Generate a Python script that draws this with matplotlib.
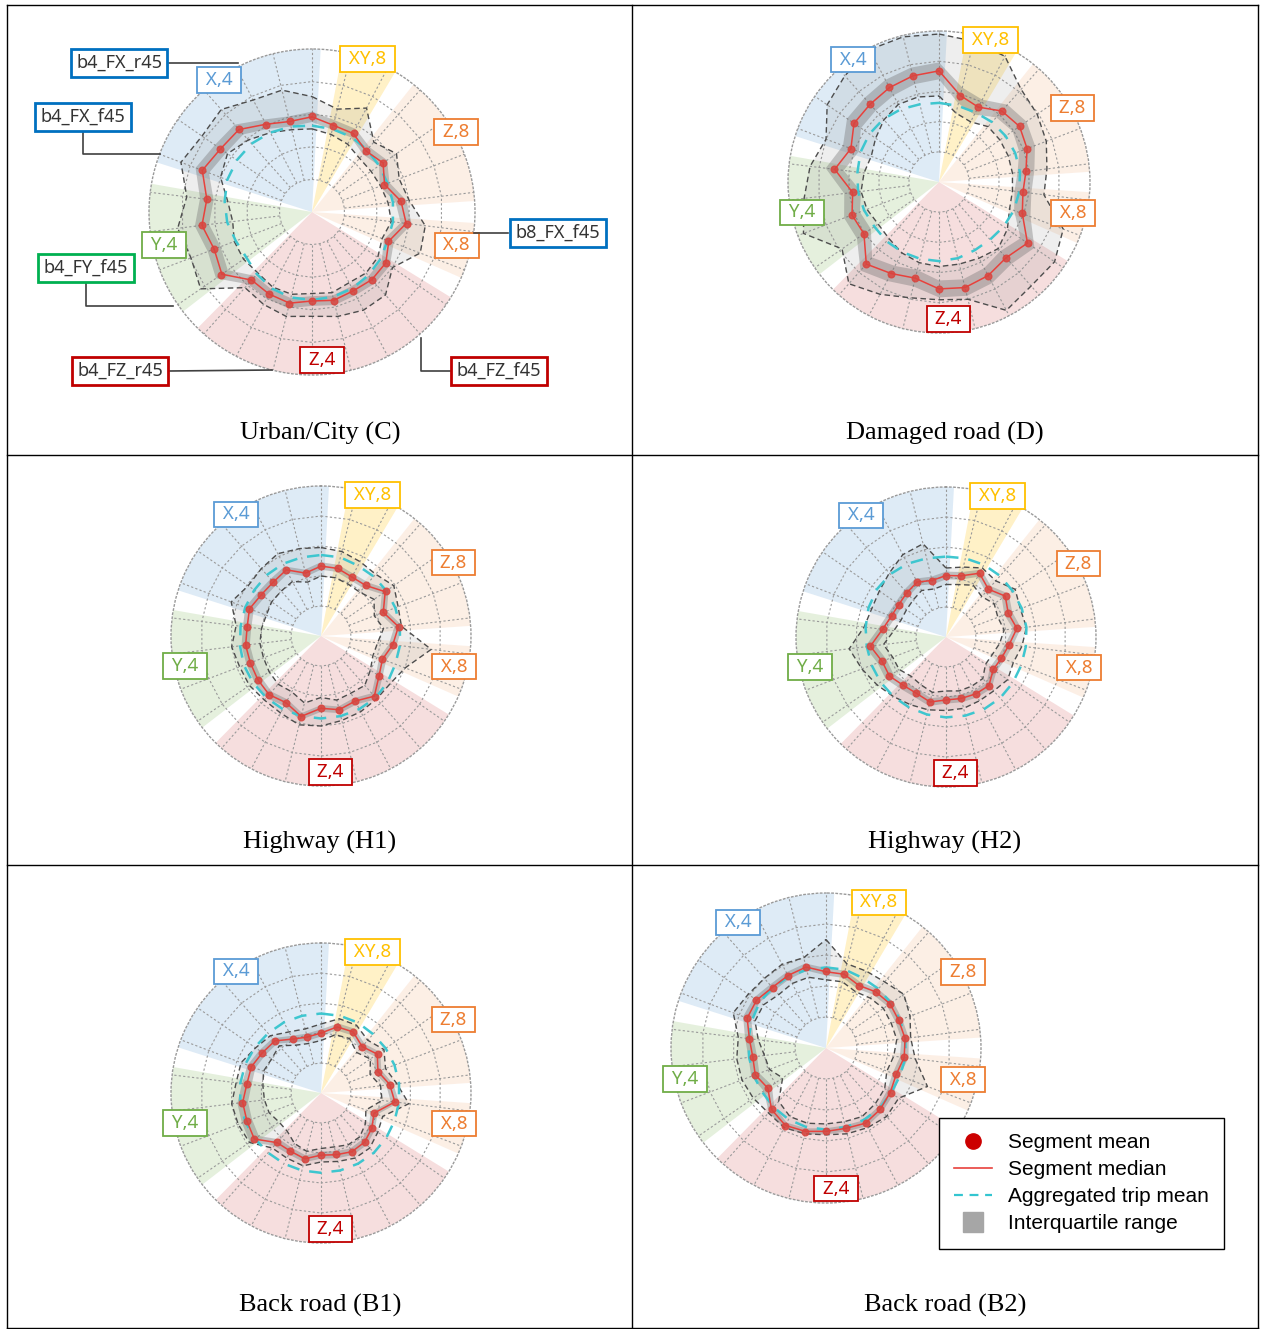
import numpy as np
import matplotlib
matplotlib.use('Agg')
import matplotlib.pyplot as plt
from matplotlib.lines import Line2D

W, H = 1264, 1329
N = 26  # spokes per radar

# ---- data (radius in grid-ring units, 5 = outer ring), spoke 0 at top, clockwise ----
C_mean = [2.93, 2.73, 2.74, 2.49, 2.66, 2.37, 2.76, 2.93, 2.50, 2.76, 2.78, 2.72, 2.80, 2.72, 2.90, 2.84, 2.80, 3.38, 3.20, 3.41, 3.24, 3.62, 3.42, 3.39, 3.03, 2.87]
C_median = [2.92, 2.74, 2.72, 2.50, 2.65, 2.38, 2.75, 2.91, 2.52, 2.75, 2.77, 2.73, 2.79, 2.73, 2.88, 2.84, 2.79, 3.36, 3.21, 3.40, 3.25, 3.60, 3.41, 3.38, 3.04, 2.86]
C_q25 = [2.76, 2.60, 2.58, 2.36, 2.50, 2.22, 2.58, 2.74, 2.36, 2.60, 2.62, 2.58, 2.64, 2.58, 2.72, 2.68, 2.62, 3.14, 3.00, 3.18, 3.04, 3.38, 3.20, 3.18, 2.88, 2.70]
C_q75 = [3.08, 2.90, 2.88, 2.66, 2.80, 2.54, 2.92, 3.08, 2.68, 2.90, 2.92, 2.88, 2.94, 2.88, 3.04, 3.00, 2.96, 3.58, 3.42, 3.62, 3.46, 3.82, 3.62, 3.58, 3.20, 3.02]
C_p10 = [2.55, 2.45, 2.35, 2.20, 2.20, 2.25, 2.35, 2.45, 2.30, 2.45, 2.50, 2.45, 2.55, 2.50, 2.60, 2.60, 2.50, 2.55, 2.55, 2.45, 2.60, 3.00, 3.15, 2.95, 2.75, 2.60]
C_p90 = [3.54, 3.25, 3.60, 2.86, 3.15, 2.86, 3.00, 3.50, 3.55, 3.00, 3.40, 3.40, 3.30, 3.20, 3.30, 3.20, 3.10, 4.15, 3.97, 4.15, 3.87, 4.30, 4.10, 4.20, 3.88, 3.85]
C_trip = [2.65, 2.62, 2.60, 2.55, 2.50, 2.48, 2.50, 2.50, 2.48, 2.55, 2.60, 2.65, 2.68, 2.70, 2.70, 2.65, 2.55, 2.45, 2.50, 2.62, 2.70, 2.78, 2.80, 2.80, 2.75, 2.70]

D_mean = [3.69, 2.94, 2.80, 3.15, 3.25, 3.11, 2.90, 2.79, 2.94, 3.57, 3.34, 3.50, 3.61, 3.55, 3.27, 3.43, 3.64, 3.01, 3.09, 2.87, 3.49, 3.11, 3.43, 3.43, 3.54, 3.63]
D_median = [3.68, 2.95, 2.80, 3.14, 3.24, 3.12, 2.90, 2.80, 2.95, 3.56, 3.35, 3.50, 3.60, 3.54, 3.28, 3.42, 3.63, 3.02, 3.08, 2.88, 3.48, 3.12, 3.42, 3.44, 3.53, 3.62]
D_q25 = [3.40, 2.68, 2.52, 2.86, 2.96, 2.84, 2.62, 2.52, 2.66, 3.28, 3.06, 3.22, 3.32, 3.26, 3.00, 3.14, 3.34, 2.74, 2.80, 2.60, 3.18, 2.84, 3.14, 3.16, 3.24, 3.34]
D_q75 = [3.96, 3.22, 3.08, 3.42, 3.52, 3.40, 3.18, 3.08, 3.24, 3.84, 3.62, 3.78, 3.88, 3.82, 3.56, 3.70, 3.92, 3.30, 3.36, 3.16, 3.78, 3.40, 3.70, 3.72, 3.82, 3.90]
D_p10 = [2.85, 2.35, 2.25, 2.45, 2.45, 2.45, 2.45, 2.45, 2.50, 2.75, 2.95, 2.85, 2.80, 2.80, 2.75, 2.65, 2.50, 2.45, 2.55, 2.60, 2.50, 2.40, 2.55, 2.75, 2.90, 2.90]
D_p90 = [4.90, 4.80, 4.70, 4.10, 3.95, 3.80, 3.60, 3.50, 4.40, 4.65, 4.60, 4.80, 4.00, 3.90, 3.95, 4.20, 4.50, 3.90, 4.80, 4.50, 4.30, 4.00, 4.50, 4.70, 4.95, 4.95]
D_trip = [2.62, 2.60, 2.60, 2.65, 2.68, 2.70, 2.70, 2.68, 2.65, 2.60, 2.55, 2.55, 2.60, 2.62, 2.62, 2.62, 2.62, 2.60, 2.65, 2.70, 2.72, 2.78, 2.80, 2.78, 2.72, 2.65]

H1_mean = [2.34, 2.32, 2.21, 2.25, 2.62, 2.21, 2.61, 2.41, 2.18, 2.35, 2.70, 2.45, 2.54, 2.40, 2.77, 2.51, 2.62, 2.56, 2.52, 2.53, 2.48, 2.55, 2.41, 2.40, 2.50, 2.15]
H1_median = [2.33, 2.32, 2.22, 2.25, 2.60, 2.22, 2.60, 2.41, 2.19, 2.35, 2.68, 2.45, 2.53, 2.41, 2.76, 2.51, 2.61, 2.56, 2.52, 2.53, 2.48, 2.55, 2.42, 2.40, 2.49, 2.16]
H1_q25 = [2.21, 2.20, 2.10, 2.13, 2.46, 2.10, 2.46, 2.28, 2.07, 2.23, 2.55, 2.34, 2.42, 2.30, 2.64, 2.39, 2.48, 2.42, 2.38, 2.39, 2.34, 2.40, 2.28, 2.26, 2.36, 2.04]
H1_q75 = [2.46, 2.44, 2.34, 2.38, 2.74, 2.35, 2.74, 2.54, 2.32, 2.48, 2.81, 2.57, 2.65, 2.53, 2.89, 2.64, 2.75, 2.70, 2.66, 2.67, 2.62, 2.70, 2.56, 2.54, 2.62, 2.28]
H1_p10 = [2.00, 2.00, 1.95, 1.95, 2.15, 1.90, 2.10, 1.90, 1.85, 2.00, 2.20, 2.15, 2.20, 2.05, 2.30, 2.10, 2.15, 2.10, 2.05, 2.05, 2.00, 1.95, 2.00, 2.00, 2.05, 1.85]
H1_p90 = [2.95, 2.90, 2.80, 2.75, 2.95, 2.75, 2.70, 3.70, 3.00, 2.80, 2.80, 2.85, 2.90, 3.00, 3.05, 2.90, 2.85, 2.90, 2.90, 3.00, 2.85, 3.20, 2.95, 3.00, 3.10, 3.00]
H1_trip = [2.70, 2.70, 2.65, 2.65, 2.65, 2.65, 2.65, 2.65, 2.65, 2.70, 2.75, 2.75, 2.75, 2.75, 2.75, 2.75, 2.75, 2.75, 2.75, 2.72, 2.70, 2.70, 2.70, 2.72, 2.72, 2.70]

H2_mean = [2.04, 2.10, 2.42, 2.12, 2.41, 2.21, 2.39, 2.12, 1.97, 1.90, 2.17, 2.14, 2.11, 2.09, 2.24, 2.12, 2.15, 2.30, 2.28, 2.56, 2.12, 1.94, 1.90, 1.97, 2.07, 1.93]
H2_median = [2.05, 2.10, 2.40, 2.13, 2.40, 2.22, 2.38, 2.12, 1.98, 1.91, 2.16, 2.14, 2.11, 2.10, 2.23, 2.12, 2.15, 2.29, 2.28, 2.54, 2.13, 1.95, 1.91, 1.97, 2.07, 1.94]
H2_q25 = [1.92, 1.97, 2.26, 2.00, 2.26, 2.08, 2.25, 1.99, 1.85, 1.78, 2.04, 2.02, 1.99, 1.98, 2.10, 1.99, 2.01, 2.14, 2.12, 2.36, 1.98, 1.81, 1.78, 1.84, 1.94, 1.81]
H2_q75 = [2.18, 2.23, 2.54, 2.26, 2.54, 2.36, 2.52, 2.25, 2.11, 2.04, 2.29, 2.27, 2.24, 2.22, 2.37, 2.26, 2.30, 2.45, 2.44, 2.72, 2.28, 2.09, 2.04, 2.10, 2.20, 2.07]
H2_p10 = [1.75, 1.80, 1.95, 1.80, 1.95, 1.85, 1.95, 1.80, 1.65, 1.60, 1.85, 1.85, 1.85, 1.80, 1.90, 1.80, 1.75, 1.90, 1.90, 2.10, 1.75, 1.60, 1.60, 1.65, 1.75, 1.65]
H2_p90 = [2.30, 2.40, 2.60, 2.50, 2.80, 2.65, 2.70, 2.55, 2.40, 2.50, 2.40, 2.40, 2.45, 2.45, 2.50, 2.55, 2.65, 2.80, 3.00, 3.25, 2.75, 2.65, 2.70, 2.85, 3.10, 3.20]
H2_trip = [2.68, 2.70, 2.72, 2.72, 2.70, 2.70, 2.70, 2.68, 2.68, 2.70, 2.72, 2.72, 2.70, 2.68, 2.66, 2.65, 2.65, 2.65, 2.65, 2.66, 2.70, 2.76, 2.80, 2.80, 2.76, 2.70]

B1_mean = [1.99, 2.27, 2.31, 2.06, 2.29, 2.02, 2.31, 2.50, 1.88, 2.06, 2.19, 2.21, 2.11, 2.07, 2.27, 2.19, 2.20, 2.72, 2.64, 2.64, 2.49, 2.48, 2.37, 2.32, 2.02, 1.91]
B1_median = [2.00, 2.27, 2.30, 2.07, 2.28, 2.03, 2.31, 2.48, 1.89, 2.06, 2.19, 2.21, 2.12, 2.07, 2.26, 2.19, 2.21, 2.70, 2.64, 2.63, 2.49, 2.48, 2.37, 2.32, 2.03, 1.92]
B1_q25 = [1.88, 2.15, 2.18, 1.95, 2.16, 1.91, 2.19, 2.34, 1.77, 1.94, 2.07, 2.09, 2.00, 1.95, 2.14, 2.07, 2.07, 2.52, 2.46, 2.45, 2.33, 2.34, 2.24, 2.20, 1.91, 1.80]
B1_q75 = [2.12, 2.39, 2.42, 2.19, 2.40, 2.15, 2.43, 2.62, 2.01, 2.18, 2.31, 2.33, 2.24, 2.19, 2.38, 2.31, 2.35, 2.88, 2.82, 2.81, 2.65, 2.62, 2.50, 2.44, 2.15, 2.04]
B1_p10 = [1.75, 2.00, 2.05, 1.80, 2.00, 1.75, 2.00, 2.05, 1.60, 1.80, 1.95, 1.95, 1.85, 1.85, 2.00, 1.90, 1.70, 1.70, 1.85, 1.90, 1.95, 2.05, 2.00, 2.10, 1.80, 1.70]
B1_p90 = [2.30, 2.55, 2.55, 2.35, 2.55, 2.30, 2.55, 2.95, 2.20, 2.30, 2.45, 2.45, 2.35, 2.30, 2.50, 2.45, 2.45, 2.90, 2.95, 3.00, 2.85, 2.85, 2.65, 2.55, 2.30, 2.20]
B1_trip = [2.65, 2.65, 2.65, 2.62, 2.62, 2.62, 2.62, 2.62, 2.62, 2.64, 2.66, 2.66, 2.66, 2.66, 2.66, 2.66, 2.66, 2.68, 2.70, 2.71, 2.71, 2.70, 2.68, 2.66, 2.66, 2.65]

B2_mean = [2.47, 2.45, 2.27, 2.42, 2.52, 2.51, 2.58, 2.54, 2.41, 2.53, 2.65, 2.75, 2.67, 2.69, 2.78, 2.83, 2.65, 2.27, 2.44, 2.38, 2.49, 2.74, 2.73, 2.60, 2.64, 2.70]
B2_median = [2.46, 2.45, 2.28, 2.42, 2.51, 2.51, 2.57, 2.54, 2.42, 2.52, 2.64, 2.74, 2.67, 2.69, 2.77, 2.82, 2.65, 2.28, 2.44, 2.38, 2.49, 2.72, 2.72, 2.61, 2.64, 2.69]
B2_q25 = [2.34, 2.33, 2.16, 2.30, 2.39, 2.39, 2.45, 2.40, 2.30, 2.40, 2.53, 2.63, 2.57, 2.59, 2.67, 2.72, 2.52, 2.12, 2.30, 2.24, 2.35, 2.58, 2.60, 2.49, 2.52, 2.57]
B2_q75 = [2.58, 2.57, 2.40, 2.54, 2.63, 2.63, 2.69, 2.68, 2.54, 2.64, 2.75, 2.85, 2.77, 2.79, 2.87, 2.92, 2.78, 2.44, 2.58, 2.52, 2.63, 2.86, 2.84, 2.73, 2.76, 2.81]
B2_p10 = [2.20, 2.20, 2.05, 2.15, 2.25, 2.25, 2.30, 2.20, 2.10, 2.30, 2.40, 2.50, 2.45, 2.45, 2.50, 2.50, 2.30, 1.70, 1.95, 2.00, 2.20, 2.45, 2.45, 2.30, 2.35, 2.35]
B2_p90 = [3.50, 2.80, 2.80, 2.85, 3.05, 2.90, 2.75, 2.90, 3.50, 2.85, 2.95, 2.90, 2.85, 2.80, 2.85, 2.90, 2.80, 2.85, 2.90, 2.90, 2.85, 3.20, 3.05, 3.00, 3.05, 3.00]
B2_trip = [2.60, 2.60, 2.55, 2.55, 2.55, 2.55, 2.58, 2.58, 2.55, 2.55, 2.60, 2.62, 2.63, 2.63, 2.63, 2.60, 2.55, 2.50, 2.50, 2.50, 2.52, 2.55, 2.60, 2.60, 2.60, 2.60]

# background sectors: label, first spoke, last spoke
sector_labels = ['X,4', 'XY,8', 'Z,8', 'X,8', 'Z,4', 'Y,4']
sector_first = [21, 1, 3, 7, 9, 17]
sector_last = [26, 2, 6, 8, 16, 20]
sector_colors = ['#5b9bd5', '#ffc000', '#ed7d31', '#ed7d31', '#c00000', '#70ad47']
sector_alpha = [0.2, 0.22, 0.12, 0.12, 0.13, 0.18]
label_pos = [(325, 4.95), (20, 5.0), (61, 5.05), (103, 4.55), (176, 4.55), (257.5, 4.65)]

step = 2 * np.pi / N
theta = np.arange(N + 1) * step


def closed(v):
    return np.r_[v, v[0]]


def band(ax, lo, hi, color, alpha, z):
    ax.fill(np.r_[theta, theta[::-1]], np.r_[closed(hi), closed(lo)[::-1]],
            color=color, alpha=alpha, lw=0, zorder=z)


def draw_panel(cx, cy, R, caption, cap_xy, mean, median, q25, q75, p10, p90, trip):
    ax = fig.add_axes([(cx - R) / W, 1 - (cy + R) / H, 2 * R / W, 2 * R / H], projection='polar')
    ax.set_theta_zero_location('N')
    ax.set_theta_direction(-1)
    ax.set_ylim(0, 5)
    ax.set_xticks([])
    ax.set_yticks([])
    ax.grid(False)
    ax.spines['polar'].set_linestyle((0, (1, 2)))
    ax.spines['polar'].set_color('#9a9a9a')
    ax.spines['polar'].set_linewidth(1.0)

    for lab, a, b, c, al, (tdeg, tr) in zip(sector_labels, sector_first, sector_last,
                                           sector_colors, sector_alpha, label_pos):
        t = np.linspace((a - 0.22) * step, (b + 0.22) * step, 60)
        ax.fill(np.r_[0, t, 0], np.r_[0, np.full(len(t), 5.0), 0], color=c, alpha=al, lw=0, zorder=0)
        ax.text(np.deg2rad(tdeg), tr, ' ' + lab + ' ', color=c, ha='center', va='center',
                fontsize=13.5, family='Noto Sans', zorder=10, clip_on=False,
                bbox=dict(boxstyle='square,pad=0.2', fc='white', ec=c, lw=1.3))

    # spider web grid
    for r in [1, 2, 3, 4]:
        ax.plot(theta, np.full(N + 1, r), color='#9a9a9a', lw=0.8, ls=(0, (2, 2)), zorder=1)
    for t in theta[:-1]:
        ax.plot([t, t], [1, 5], color='#9a9a9a', lw=0.8, ls=(0, (2, 2)), zorder=1)

    band(ax, p10, p90, '#808080', 0.13, 2)
    ax.plot(theta, closed(p90), color='#4d4d4d', lw=1.0, ls=(0, (4, 2.5)), zorder=3)
    ax.plot(theta, closed(p10), color='#4d4d4d', lw=1.0, ls=(0, (4, 2.5)), zorder=3)
    band(ax, q25, q75, '#6a6a6a', 0.35, 4)
    ax.plot(theta, closed(trip), color='#3ec6cf', lw=1.8, ls=(0, (5, 4)), zorder=5)
    ax.plot(theta, closed(median), color='#e8413c', lw=1.1, zorder=6)
    ax.plot(theta[:-1], mean, 'o', color='#d9453f', ms=4.8, alpha=0.85, zorder=7)

    fig.text(cap_xy[0] / W, 1 - cap_xy[1] / H, caption, ha='center', va='center',
             fontsize=19, family='Liberation Serif')
    return ax


fig = plt.figure(figsize=(W / 100, H / 100), dpi=100)

draw_panel(312, 212, 163, 'Urban/City (C)', (320, 433),
           C_mean, C_median, C_q25, C_q75, C_p10, C_p90, C_trip)
draw_panel(939, 182, 151, 'Damaged road (D)', (945, 433),
           D_mean, D_median, D_q25, D_q75, D_p10, D_p90, D_trip)
draw_panel(321, 636, 150, 'Highway (H1)', (320, 842),
           H1_mean, H1_median, H1_q25, H1_q75, H1_p10, H1_p90, H1_trip)
draw_panel(946, 637, 150, 'Highway (H2)', (945, 842),
           H2_mean, H2_median, H2_q25, H2_q75, H2_p10, H2_p90, H2_trip)
draw_panel(321, 1093, 150, 'Back road (B1)', (320, 1305),
           B1_mean, B1_median, B1_q25, B1_q75, B1_p10, B1_p90, B1_trip)
draw_panel(826, 1048, 155, 'Back road (B2)', (945, 1305),
           B2_mean, B2_median, B2_q25, B2_q75, B2_p10, B2_p90, B2_trip)


def fx(x):
    return x / W


def fy(y):
    return 1 - y / H


# feature call-outs on the first panel
callouts = [
    ('b4_FX_r45', '#0070c0', (119, 63), [(169, 63), (238, 63)]),
    ('b4_FX_f45', '#0070c0', (83, 117), [(83, 131), (83, 154), (160, 154)]),
    ('b8_FX_f45', '#0070c0', (558, 233), [(508, 233), (474, 233)]),
    ('b4_FY_f45', '#00b050', (86, 268), [(86, 283), (86, 306), (173, 306)]),
    ('b4_FZ_r45', '#c00000', (120, 371), [(170, 371), (272, 370)]),
    ('b4_FZ_f45', '#c00000', (499, 371), [(450, 371), (421, 371), (421, 338)]),
]
for txt, col, (tx, ty), pts in callouts:
    xs = [fx(p[0]) for p in pts]
    ys = [fy(p[1]) for p in pts]
    fig.add_artist(Line2D(xs, ys, transform=fig.transFigure, color='#404040', lw=1.2))
    fig.text(fx(tx), fy(ty), txt, ha='center', va='center', fontsize=13, family='Noto Sans',
             color='#333333', bbox=dict(boxstyle='square,pad=0.3', fc='white', ec=col, lw=2))

# table frame
for y in [5, 455, 865, 1328]:
    fig.add_artist(Line2D([fx(7), fx(1258)], [fy(y), fy(y)], transform=fig.transFigure, color='k', lw=1))
for x in [7, 632, 1258]:
    fig.add_artist(Line2D([fx(x), fx(x)], [fy(5), fy(1328)], transform=fig.transFigure, color='k', lw=1))

# legend
handles = [
    Line2D([], [], marker='o', color='#cc0000', ls='none', ms=11),
    Line2D([], [], color='#e8413c', lw=1.2),
    Line2D([], [], color='#33c5d0', lw=1.6, ls=(0, (4, 3))),
    Line2D([], [], marker='s', color='#a6a6a6', ls='none', ms=14),
]
labels = ['Segment mean', 'Segment median', 'Aggregated trip mean', 'Interquartile range']
leg = fig.legend(handles, labels, loc='upper left', bbox_to_anchor=(fx(939), fy(1118)),
                 borderaxespad=0, frameon=True, fancybox=False, edgecolor='black', framealpha=1,
                 prop={'family': 'Liberation Sans', 'size': 15}, handlelength=1.8,
                 borderpad=0.74, labelspacing=0.38, handletextpad=0.75)
leg.get_frame().set_linewidth(1.0)

fig.savefig('out.png', dpi=100)
